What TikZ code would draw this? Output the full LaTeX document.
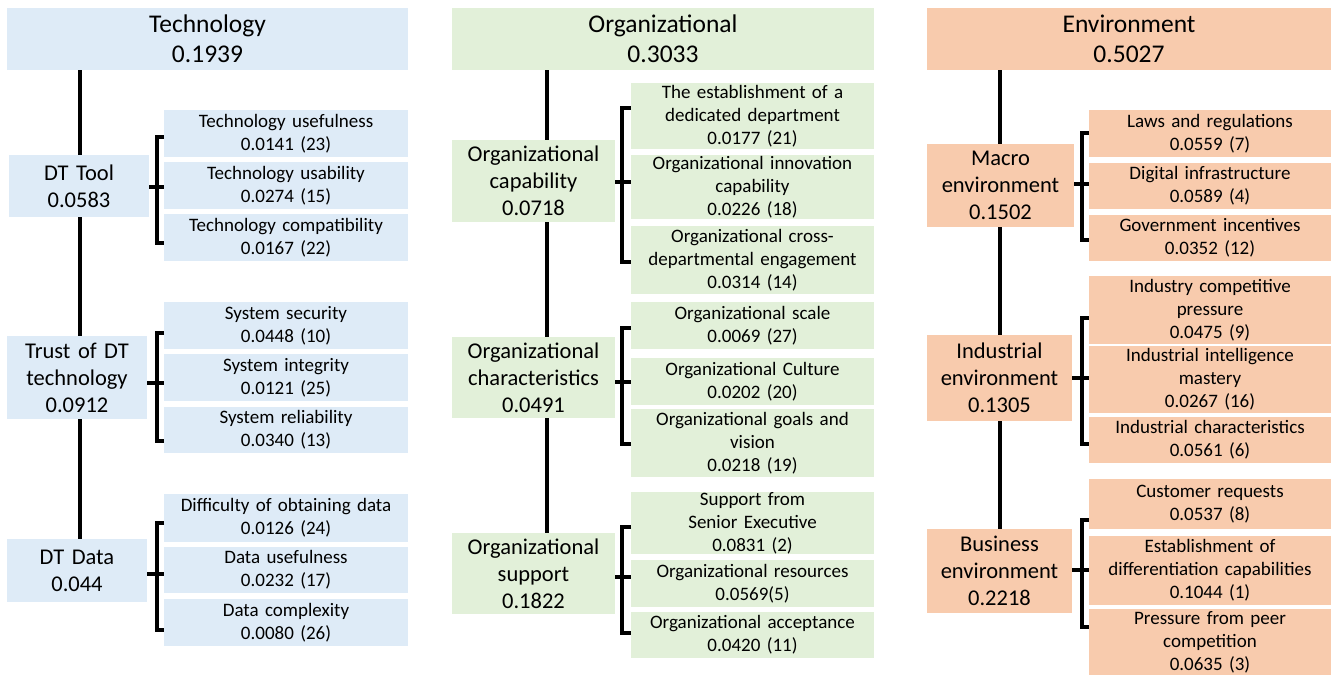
\documentclass[tikz,border=0pt]{standalone}
\usepackage{fontspec}
\setmainfont{Carlito}
\definecolor{techfill}{RGB}{222,235,247}
\definecolor{orgfill}{RGB}{226,240,217}
\definecolor{envfill}{RGB}{248,203,173}

% a box given by its two corners (in px, y downwards)
\newcommand\mkbox[7]{%
  \pgfmathsetmacro\bxcx{(#3+#5)/2}%
  \pgfmathsetmacro\bxcy{(#4+#6)/2}%
  \pgfmathsetmacro\bxw{#5-#3}%
  \pgfmathsetmacro\bxh{#6-#4}%
  \node[#1, minimum width=\bxw pt, minimum height=\bxh pt, text width=\bxw pt] (#2) at (\bxcx,\bxcy) {#7};}

\tikzset{
  box/.style={inner sep=0pt, outer sep=0pt, align=center, draw=none},
  topbox/.style={box, font=\fontsize{25.5}{30}\selectfont},
  midbox/.style={box, font=\fontsize{22.5}{27}\selectfont},
  leafbox/.style={box, font=\fontsize{19}{23}\selectfont},
  tech/.style={fill=techfill},
  org/.style={fill=orgfill},
  env/.style={fill=envfill},
  trunk/.style={line width=4pt, black},
  brk/.style={line width=3.5pt, black, line join=miter, line cap=butt},
}

\begin{document}
\begin{tikzpicture}[x=1pt, y=-1pt]
\useasboundingbox (0,0) rectangle (1331,675);

% ---------------- Technology ----------------
\mkbox{topbox,tech}{tech}{7}{8}{408}{70}{Technology\\0.1939}
\mkbox{midbox,tech}{dttool}{9}{155}{149}{217}{DT Tool\\0.0583}
\mkbox{leafbox,tech}{t1}{164}{110}{408}{157}{Technology usefulness\\0.0141 (23)}
\mkbox{leafbox,tech}{t2}{164}{162}{408}{209}{Technology usability\\0.0274 (15)}
\mkbox{leafbox,tech}{t3}{164}{214}{408}{261}{Technology compatibility\\0.0167 (22)}
\mkbox{midbox,tech}{trust}{7}{336}{147}{419}{Trust of DT\\technology\\0.0912}
\mkbox{leafbox,tech}{t4}{164}{302}{408}{349}{System security\\0.0448 (10)}
\mkbox{leafbox,tech}{t5}{164}{354}{408}{401}{System integrity\\0.0121 (25)}
\mkbox{leafbox,tech}{t6}{164}{407}{408}{453}{System reliability\\0.0340 (13)}
\mkbox{midbox,tech}{dtdata}{7}{539}{147}{602}{DT Data\\0.044}
\mkbox{leafbox,tech}{t7}{164}{494}{408}{542}{Difficulty of obtaining data\\0.0126 (24)}
\mkbox{leafbox,tech}{t8}{164}{547}{408}{593}{Data usefulness\\0.0232 (17)}
\mkbox{leafbox,tech}{t9}{164}{599}{408}{646}{Data complexity\\0.0080 (26)}

\draw[trunk] (tech.south -| 80,0) -- (dttool.north -| 80,0);
\draw[trunk] (dttool.south -| 80,0) -- (trust.north -| 80,0);
\draw[trunk] (trust.south -| 80,0) -- (dtdata.north -| 80,0);

\draw[brk] (t1.west |- 0,137) -- ++(-7,0) |- (t3.west |- 0,243);
\draw[brk] (dttool.east |- 0,187) -- (t2.west |- 0,187);
\draw[brk] (t4.west |- 0,333) -- ++(-7,0) |- (t6.west |- 0,441);
\draw[brk] (trust.east |- 0,383) -- (t5.west |- 0,383);
\draw[brk] (t7.west |- 0,523) -- ++(-7,0) |- (t9.west |- 0,630);
\draw[brk] (dtdata.east |- 0,574) -- (t8.west |- 0,574);

% ---------------- Organizational ----------------
\mkbox{topbox,org}{org}{452}{8}{874}{70}{Organizational\\0.3033}
\mkbox{midbox,org}{ocap}{452}{140}{615}{222}{Organizational\\capability\\0.0718}
\mkbox{leafbox,org}{o1}{631}{83}{874}{149}{The establishment of a\\dedicated department\\0.0177 (21)}
\mkbox{leafbox,org}{o2}{631}{155}{874}{219}{Organizational innovation\\capability\\0.0226 (18)}
\mkbox{leafbox,org}{o3}{631}{226}{874}{294}{Organizational cross-\\departmental engagement\\0.0314 (14)}
\mkbox{midbox,org}{ochar}{452}{337}{615}{418}{Organizational\\characteristics\\0.0491}
\mkbox{leafbox,org}{o4}{631}{302}{874}{349}{Organizational scale\\0.0069 (27)}
\mkbox{leafbox,org}{o5}{631}{358}{874}{405}{Organizational Culture\\0.0202 (20)}
\mkbox{leafbox,org}{o6}{631}{409}{874}{477}{Organizational goals and\\vision\\0.0218 (19)}
\mkbox{midbox,org}{osup}{452}{533}{615}{614}{Organizational\\support\\0.1822}
\mkbox{leafbox,org}{o7}{631}{492}{874}{554}{Support from\\Senior Executive\\0.0831 (2)}
\mkbox{leafbox,org}{o8}{631}{560}{874}{607}{Organizational resources\\0.0569(5)}
\mkbox{leafbox,org}{o9}{631}{612}{874}{658}{Organizational acceptance\\0.0420 (11)}

\draw[trunk] (org.south -| 547,0) -- (ocap.north -| 547,0);
\draw[trunk] (ocap.south -| 547,0) -- (ochar.north -| 547,0);
\draw[trunk] (ochar.south -| 547,0) -- (osup.north -| 547,0);

\draw[brk] (o1.west |- 0,108) -- ++(-9,0) |- (o3.west |- 0,262);
\draw[brk] (ocap.east |- 0,182) -- (o2.west |- 0,182);
\draw[brk] (o4.west |- 0,328) -- ++(-9,0) |- (o6.west |- 0,444);
\draw[brk] (ochar.east |- 0,382) -- (o5.west |- 0,382);
\draw[brk] (o7.west |- 0,527) -- ++(-9,0) |- (o9.west |- 0,633);
\draw[brk] (osup.east |- 0,577) -- (o8.west |- 0,577);

% ---------------- Environment ----------------
\mkbox{topbox,env}{env}{927}{8}{1331}{70}{Environment\\0.5027}
\mkbox{midbox,env}{macro}{927}{144}{1074}{227}{Macro\\environment\\0.1502}
\mkbox{leafbox,env}{e1}{1089}{110}{1331}{157}{Laws and regulations\\0.0559 (7)}
\mkbox{leafbox,env}{e2}{1089}{163}{1331}{209}{Digital infrastructure\\0.0589 (4)}
\mkbox{leafbox,env}{e3}{1089}{215}{1331}{261}{Government incentives\\0.0352 (12)}
\mkbox{midbox,env}{indu}{927}{335}{1072}{421}{Industrial\\environment\\0.1305}
\mkbox{leafbox,env}{e4}{1089}{276}{1331}{344}{Industry competitive\\pressure\\0.0475 (9)}
\mkbox{leafbox,env}{e5}{1089}{346}{1331}{413}{Industrial intelligence\\mastery\\0.0267 (16)}
\mkbox{leafbox,env}{e6}{1089}{417}{1331}{463}{Industrial characteristics\\0.0561 (6)}
\mkbox{midbox,env}{busi}{927}{529}{1072}{613}{Business\\environment\\0.2218}
\mkbox{leafbox,env}{e7}{1089}{479}{1331}{529}{Customer requests\\0.0537 (8)}
\mkbox{leafbox,env}{e8}{1089}{536}{1331}{605}{Establishment of\\differentiation capabilities\\0.1044 (1)}
\mkbox{leafbox,env}{e9}{1089}{609}{1331}{675}{Pressure from peer\\competition\\0.0635 (3)}

\draw[trunk] (env.south -| 1000,0) -- (macro.north -| 1000,0);
\draw[trunk] (macro.south -| 1000,0) -- (indu.north -| 1000,0);
\draw[trunk] (indu.south -| 1000,0) -- (busi.north -| 1000,0);

\draw[brk] (e1.west |- 0,133) -- ++(-7,0) |- (e3.west |- 0,240);
\draw[brk] (macro.east |- 0,184) -- (e2.west |- 0,184);
\draw[brk] (e4.west |- 0,318) -- ++(-7,0) |- (e6.west |- 0,444);
\draw[brk] (indu.east |- 0,378) -- (e5.west |- 0,378);
\draw[brk] (e7.west |- 0,520) -- ++(-7,0) |- (e9.west |- 0,627);
\draw[brk] (busi.east |- 0,570) -- (e8.west |- 0,570);
\end{tikzpicture}
\end{document}
